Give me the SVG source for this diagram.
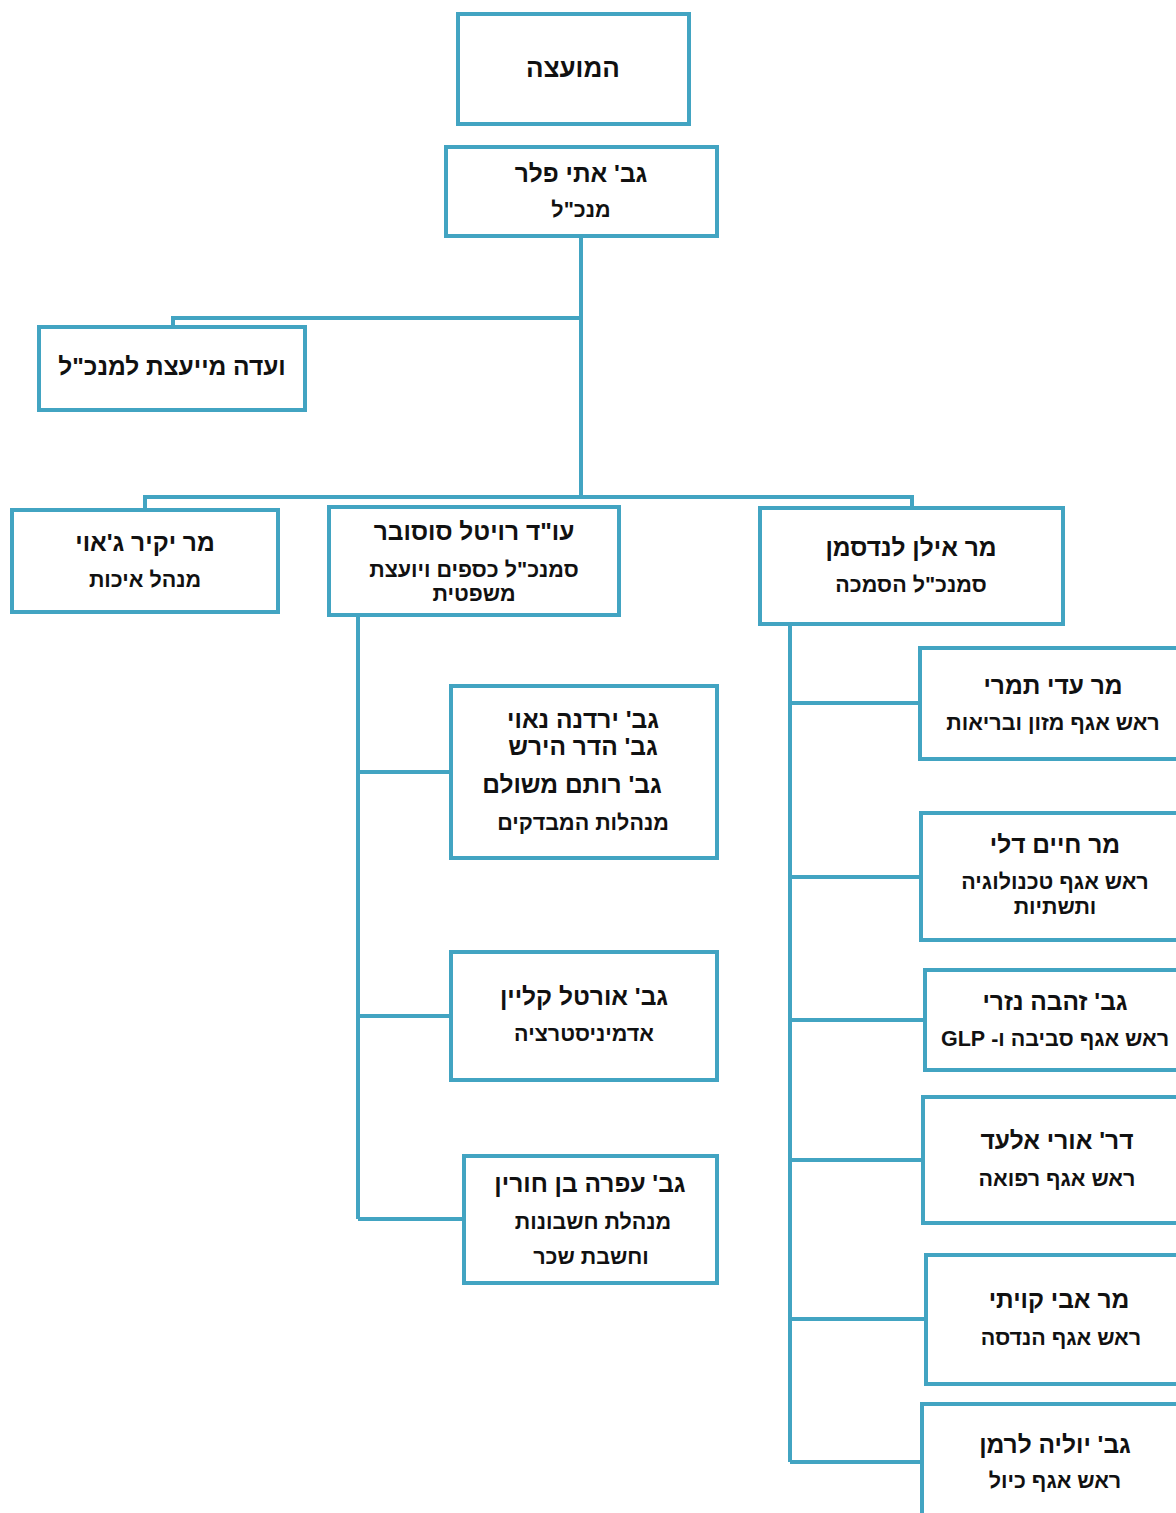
<svg xmlns="http://www.w3.org/2000/svg" width="1176" height="1513" viewBox="0 0 1176 1513">
<style>
.box{fill:#ffffff;stroke:#42a4c2;stroke-width:4}
.ln{stroke:#42a4c2;stroke-width:4;fill:none}
text{font-family:"Liberation Sans","DejaVu Sans",sans-serif;font-weight:bold;fill:#111;text-anchor:middle;direction:rtl}
.n{font-size:24.5px}
.t{font-size:21.5px}
.big{font-size:26px}
</style>
<rect width="1176" height="1513" fill="#ffffff"/>
<g id="connectors">
<path class="ln" d="M581 236 V497"/>
<path class="ln" d="M581 318 H173 V327"/>
<path class="ln" d="M145 510 V497 H912 V508"/>
<path class="ln" d="M358 615 V1219"/>
<path class="ln" d="M358 772 H451"/>
<path class="ln" d="M358 1016 H451"/>
<path class="ln" d="M358 1219 H464"/>
<path class="ln" d="M790 624 V1462"/>
<path class="ln" d="M790 703 H920"/>
<path class="ln" d="M790 877 H921"/>
<path class="ln" d="M790 1020 H925"/>
<path class="ln" d="M790 1160 H923"/>
<path class="ln" d="M790 1319 H926"/>
<path class="ln" d="M790 1462 H922"/>
</g>
<g id="council">
<rect class="box" x="458" y="14" width="231" height="110"/>
<text class="big" x="573" y="77">המועצה</text>
</g>
<g id="ceo">
<rect class="box" x="446" y="147" width="271" height="89"/>
<text class="n" x="581" y="182">גב' אתי פלר</text>
<text class="t" x="581" y="217">מנכ"ל</text>
</g>
<g id="committee">
<rect class="box" x="39" y="327" width="266" height="83"/>
<text class="n" x="172" y="375">ועדה מייעצת למנכ"ל</text>
</g>
<g id="quality">
<rect class="box" x="12" y="510" width="266" height="102"/>
<text class="n" x="145" y="551">מר יקיר ג'אוי</text>
<text class="t" x="145" y="587">מנהל איכות</text>
</g>
<g id="finance">
<rect class="box" x="329" y="507" width="290" height="108"/>
<text class="n" x="474" y="540">עו"ד רויטל סוסובר</text>
<text class="t" x="474" y="577">סמנכ"ל כספים ויועצת</text>
<text class="t" x="474" y="601">משפטית</text>
</g>
<g id="accreditation">
<rect class="box" x="760" y="508" width="303" height="116"/>
<text class="n" x="911" y="556">מר אילן לנדסמן</text>
<text class="t" x="911" y="592">סמנכ"ל הסמכה</text>
</g>
<g id="auditors">
<rect class="box" x="451" y="686" width="266" height="172"/>
<text class="n" x="583" y="728">גב' ירדנה נאוי</text>
<text class="n" x="583" y="755">גב' הדר הירש</text>
<text class="n" x="572" y="793">גב' רותם משולם</text>
<text class="t" x="583" y="830">מנהלות המבדקים</text>
</g>
<g id="admin">
<rect class="box" x="451" y="952" width="266" height="128"/>
<text class="n" x="584" y="1005">גב' אורטל קליין</text>
<text class="t" x="584" y="1041">אדמיניסטרציה</text>
</g>
<g id="accounts">
<rect class="box" x="464" y="1156" width="253" height="127"/>
<text class="n" x="590" y="1192">גב' עפרה בן חורין</text>
<text class="t" x="593" y="1229">מנהלת חשבונות</text>
<text class="t" x="591" y="1264">וחשבת שכר</text>
</g>
<g id="food">
<rect class="box" x="920" y="648" width="270" height="111"/>
<text class="n" x="1053" y="694">מר עדי תמרי</text>
<text class="t" x="1053" y="730">ראש אגף מזון ובריאות</text>
</g>
<g id="tech">
<rect class="box" x="921" y="813" width="270" height="127"/>
<text class="n" x="1055" y="853">מר חיים דלי</text>
<text class="t" x="1055" y="889">ראש אגף טכנולוגיה</text>
<text class="t" x="1055" y="914">ותשתיות</text>
</g>
<g id="environment">
<rect class="box" x="925" y="970" width="265" height="100"/>
<text class="n" x="1055" y="1010">גב' זהבה נזרי</text>
<text class="t" x="1055" y="1046">ראש אגף סביבה ו- GLP</text>
</g>
<g id="medicine">
<rect class="box" x="923" y="1097" width="267" height="126"/>
<text class="n" x="1057" y="1149">דר' אורי אלעד</text>
<text class="t" x="1057" y="1186">ראש אגף רפואה</text>
</g>
<g id="engineering">
<rect class="box" x="926" y="1255" width="264" height="129"/>
<text class="n" x="1059" y="1308">מר אבי קויתי</text>
<text class="t" x="1061" y="1345">ראש אגף הנדסה</text>
</g>
<g id="calibration">
<rect class="box" x="922" y="1404" width="268" height="130"/>
<text class="n" x="1055" y="1453">גב' יוליה לרמן</text>
<text class="t" x="1055" y="1488">ראש אגף כיול</text>
</g>
</svg>
